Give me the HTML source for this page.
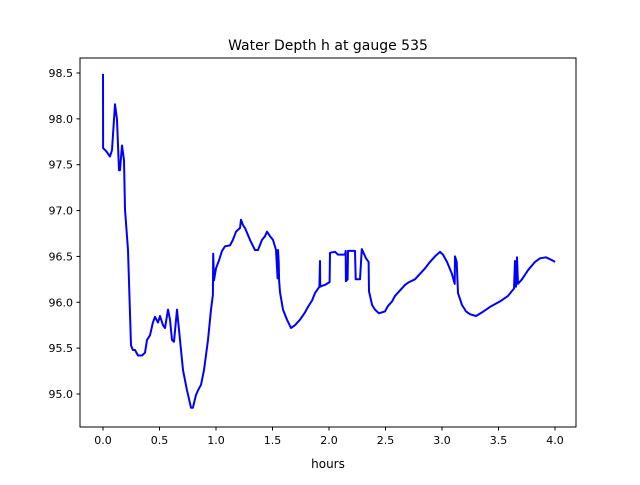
<!DOCTYPE html>
<html><head><meta charset="utf-8"><style>
body{margin:0;background:#fff;}
svg text{font-family:"DejaVu Sans","Liberation Sans",sans-serif;fill:#000;}
</style></head><body>
<svg id="chart" width="640" height="480">
<rect x="0" y="0" width="640" height="480" fill="#fff"/>
<text x="328" y="50" font-size="14" text-anchor="middle">Water Depth h at gauge 535</text>
<text x="328" y="468" font-size="12" text-anchor="middle">hours</text>
<g id="ticks"></g>
<path id="line" fill="none" stroke="#0000ff" stroke-width="2" stroke-linejoin="round"/>
<rect x="80" y="58" width="496" height="369" fill="none" stroke="#000" stroke-width="1"/>
</svg>
<script>
const hours=[0,0.001,0.027,0.062,0.08,0.106,0.124,0.142,0.15,0.168,0.186,0.195,0.221,0.248,0.265,0.283,0.31,0.345,0.372,0.389,0.416,0.442,0.46,0.487,0.504,0.531,0.549,0.575,0.593,0.611,0.628,0.655,0.681,0.708,0.743,0.779,0.796,0.823,0.841,0.867,0.894,0.929,0.956,0.973,0.975,0.982,1.0,1.027,1.053,1.08,1.124,1.15,1.177,1.212,1.221,1.239,1.257,1.301,1.345,1.372,1.407,1.434,1.451,1.478,1.504,1.531,1.545,1.549,1.555,1.558,1.566,1.593,1.628,1.664,1.699,1.743,1.788,1.814,1.85,1.876,1.915,1.92,1.922,1.938,1.965,2.005,2.009,2.053,2.08,2.142,2.148,2.15,2.165,2.168,2.212,2.23,2.236,2.274,2.29,2.327,2.35,2.354,2.381,2.407,2.442,2.496,2.522,2.558,2.584,2.628,2.673,2.708,2.761,2.805,2.85,2.894,2.938,2.982,3.009,3.044,3.088,3.112,3.115,3.13,3.142,3.177,3.212,3.248,3.301,3.354,3.425,3.513,3.584,3.637,3.646,3.655,3.664,3.673,3.708,3.761,3.823,3.867,3.92,3.973,4.0];
const depth=[98.49,97.68,97.65,97.59,97.66,98.16,97.99,97.44,97.44,97.71,97.55,97.01,96.57,95.53,95.48,95.48,95.42,95.42,95.45,95.59,95.64,95.78,95.84,95.78,95.85,95.75,95.72,95.92,95.81,95.59,95.57,95.92,95.59,95.26,95.04,94.85,94.85,94.99,95.04,95.10,95.26,95.59,95.92,96.08,96.53,96.24,96.37,96.46,96.56,96.61,96.62,96.68,96.77,96.81,96.90,96.84,96.81,96.68,96.57,96.57,96.68,96.72,96.77,96.72,96.68,96.57,96.26,96.57,96.44,96.24,96.11,95.92,95.81,95.72,95.75,95.81,95.89,95.95,96.02,96.10,96.17,96.45,96.17,96.18,96.19,96.22,96.54,96.55,96.52,96.52,96.56,96.23,96.25,96.56,96.56,96.56,96.25,96.25,96.58,96.48,96.44,96.12,95.97,95.92,95.88,95.90,95.96,96.01,96.07,96.13,96.19,96.22,96.25,96.31,96.37,96.44,96.50,96.55,96.52,96.44,96.31,96.20,96.50,96.44,96.10,95.97,95.90,95.87,95.85,95.89,95.95,96.01,96.07,96.15,96.45,96.17,96.49,96.20,96.25,96.35,96.44,96.48,96.49,96.46,96.44];
const xTicks=["0.0","0.5","1.0","1.5","2.0","2.5","3.0","3.5","4.0"];
const yTicks=["95.0","95.5","96.0","96.5","97.0","97.5","98.0","98.5"];
function xs(h){return 103+(h-0)*113;}
function ys(v){return 73+(98.5-v)*91.71;}
const NS="http://www.w3.org/2000/svg";
const g=document.getElementById('ticks');
xTicks.forEach(t=>{
  const x=xs(parseFloat(t));
  const l=document.createElementNS(NS,'line');
  l.setAttribute('x1',x);l.setAttribute('x2',x);l.setAttribute('y1',427);l.setAttribute('y2',430.5);l.setAttribute('stroke','#000');
  
  
  g.appendChild(l);
  const tx=document.createElementNS(NS,'text');
  tx.setAttribute('x',x);tx.setAttribute('y',444);tx.setAttribute('font-size','11');tx.setAttribute('text-anchor','middle');
  tx.textContent=t;
  
  
  g.appendChild(tx);
});
yTicks.forEach(t=>{
  const y=ys(parseFloat(t));
  const l=document.createElementNS(NS,'line');
  l.setAttribute('x1',76.5);l.setAttribute('x2',80);l.setAttribute('y1',y);l.setAttribute('y2',y);l.setAttribute('stroke','#000');
  
  
  g.appendChild(l);
  const tx=document.createElementNS(NS,'text');
  tx.setAttribute('x',73);tx.setAttribute('y',y+4);tx.setAttribute('font-size','11');tx.setAttribute('text-anchor','end');
  tx.textContent=t;
  
  
  g.appendChild(tx);
});
document.getElementById('line').setAttribute('d',hours.map((h,i)=>(i?'L':'M')+xs(h).toFixed(1)+','+ys(depth[i]).toFixed(1)).join(' '));
</script>
</body></html>
